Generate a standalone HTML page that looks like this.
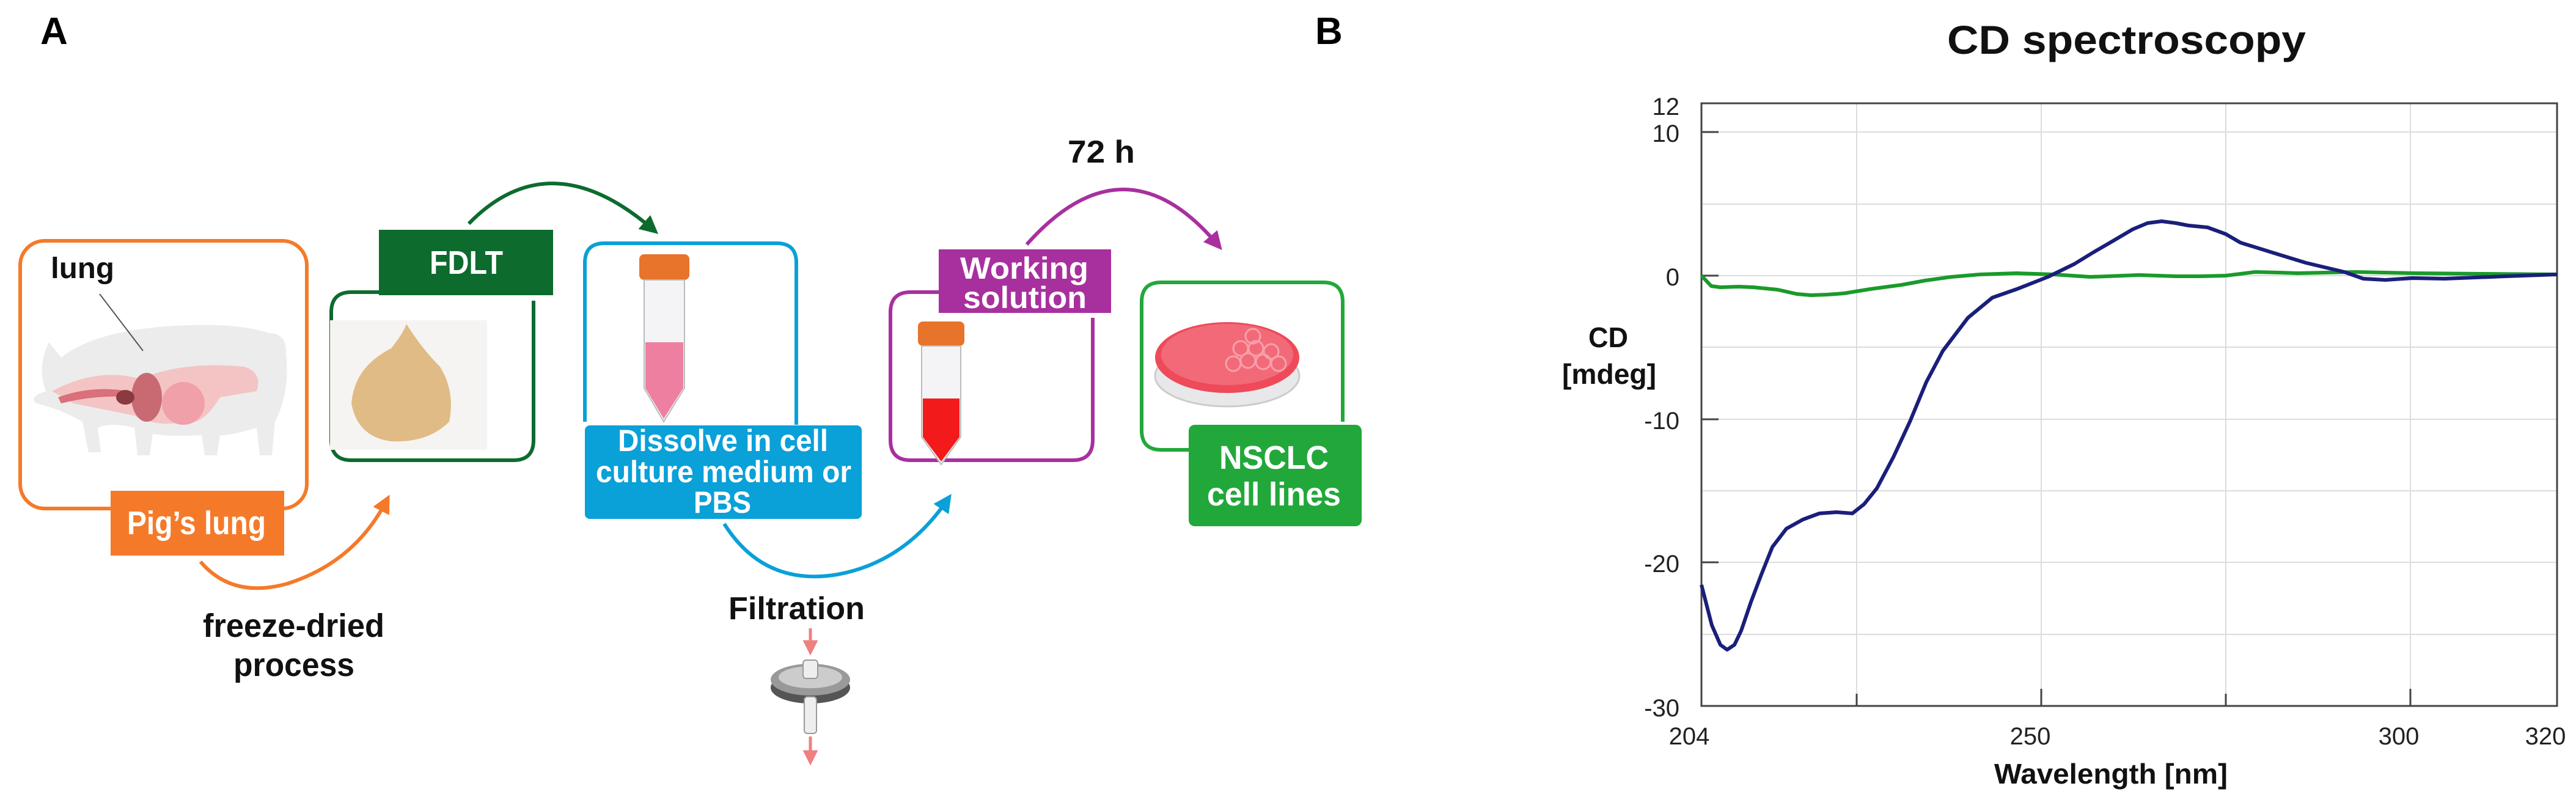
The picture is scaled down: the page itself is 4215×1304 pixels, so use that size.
<!DOCTYPE html>
<html><head><meta charset="utf-8"><style>
html,body{margin:0;padding:0;background:#fff;}
svg{display:block;}
text{font-family:"Liberation Sans Narrow","Liberation Sans",sans-serif;font-weight:bold;}
</style></head><body>
<svg width="4215" height="1304" viewBox="0 0 4215 1304" xmlns="http://www.w3.org/2000/svg">
<defs>
<marker id="ao" markerWidth="5" markerHeight="5" refX="3" refY="2.5" orient="auto" markerUnits="strokeWidth"><path d="M0,0 L5,2.5 L0,5 z" fill="#f47a2a"/></marker>
<marker id="ag" markerWidth="5" markerHeight="5" refX="3" refY="2.5" orient="auto" markerUnits="strokeWidth"><path d="M0,0 L5,2.5 L0,5 z" fill="#0d6b2e"/></marker>
<marker id="ab" markerWidth="5" markerHeight="5" refX="3" refY="2.5" orient="auto" markerUnits="strokeWidth"><path d="M0,0 L5,2.5 L0,5 z" fill="#0aa0d8"/></marker>
<marker id="ap" markerWidth="5" markerHeight="5" refX="3" refY="2.5" orient="auto" markerUnits="strokeWidth"><path d="M0,0 L5,2.5 L0,5 z" fill="#a8309e"/></marker>
<marker id="ar" markerWidth="5" markerHeight="5" refX="2.5" refY="2.5" orient="auto" markerUnits="strokeWidth"><path d="M0,0 L5,2.5 L0,5 z" fill="#f08080"/></marker>
</defs>

<text x="66" y="72" font-size="62" font-family="Liberation Sans">A</text>
<text x="2152" y="72" font-size="62" font-family="Liberation Sans">B</text>

<rect x="33" y="394" width="469" height="438" rx="40" fill="none" stroke="#f47a2a" stroke-width="6"/>
<g>
<path d="M75,640 Q60,600 80,560 L100,585 Q150,545 260,535 Q380,525 440,545 Q470,545 468,580 Q475,640 450,690 L445,745 L425,745 L420,700 Q380,712 360,712 L355,745 L335,745 L330,712 Q280,715 250,710 L245,745 L225,745 L220,700 Q180,690 160,700 L165,740 L145,740 L135,690 Q100,670 60,660 Q45,650 75,640 Z" fill="#ececec"/>
<path d="M85,640 Q160,600 230,620 Q300,590 400,600 Q430,610 420,640 L360,650 Q330,700 300,690 Q260,700 220,680 Q170,670 120,660 Z" fill="#f4c4c4"/>
<path d="M95,650 Q150,630 210,640 L215,650 Q160,645 100,660 Z" fill="#d9707a"/>
<ellipse cx="240" cy="650" rx="25" ry="40" fill="#c96a72"/>
<ellipse cx="300" cy="660" rx="35" ry="35" fill="#f0a0a8"/>
<ellipse cx="205" cy="650" rx="15" ry="12" fill="#8a3a40"/>
</g>
<line x1="163" y1="481" x2="234" y2="574" stroke="#555" stroke-width="2"/>
<text x="83" y="455" font-size="48" fill="#111" textLength="104" lengthAdjust="spacingAndGlyphs">lung</text>
<rect x="181" y="803" width="284" height="106" fill="#f47a2a"/>
<text x="208" y="874" font-size="54" fill="#fff" textLength="227" lengthAdjust="spacingAndGlyphs">Pig’s lung</text>
<path d="M328,919 Q380,980 470,955 Q580,920 632,820" fill="none" stroke="#f47a2a" stroke-width="6" marker-end="url(#ao)"/>
<text x="332" y="1042" font-size="54" fill="#111" textLength="297" lengthAdjust="spacingAndGlyphs">freeze-dried</text>
<text x="382" y="1106" font-size="54" fill="#111" textLength="198" lengthAdjust="spacingAndGlyphs">process</text>

<path d="M620,478 L575,478 Q542,478 542,511 L542,720 Q542,753 575,753 L840,753 Q873,753 873,720 L873,492" fill="none" stroke="#0d6b2e" stroke-width="6"/>
<rect x="620" y="376" width="285" height="107" fill="#0d6b2e"/>
<text x="703" y="448" font-size="54" fill="#fff" textLength="120" lengthAdjust="spacingAndGlyphs">FDLT</text>
<rect x="540" y="524" width="257" height="212" fill="#f6f4f2"/>
<path d="M575,660 Q580,600 640,570 Q660,545 665,530 Q690,570 720,600 Q745,640 735,690 Q700,725 640,722 Q585,715 575,660 Z" fill="#e0bb85"/>
<path d="M767,366 Q900,230 1068,375" fill="none" stroke="#0d6b2e" stroke-width="6" marker-end="url(#ag)"/>

<path d="M957,690 L957,430 Q957,398 989,398 L1271,398 Q1303,398 1303,430 L1303,695" fill="none" stroke="#0aa0d8" stroke-width="6"/>
<rect x="1046" y="416" width="82" height="42" rx="8" fill="#e8732a"/>
<path d="M1054,458 L1054,635 L1086,690 L1120,635 L1120,458 Z" fill="#f4f4f6" stroke="#bbb" stroke-width="2"/>
<path d="M1056,560 L1118,560 L1118,635 L1086,685 L1056,635 Z" fill="#ef7fa0"/>
<rect x="957" y="696" width="453" height="153" rx="8" fill="#0aa0d8"/>
<text x="1011" y="738" font-size="50" fill="#fff" textLength="344" lengthAdjust="spacingAndGlyphs">Dissolve in cell</text>
<text x="975" y="789" font-size="50" fill="#fff" textLength="418" lengthAdjust="spacingAndGlyphs">culture medium or</text>
<text x="1135" y="839" font-size="50" fill="#fff" textLength="94" lengthAdjust="spacingAndGlyphs">PBS</text>
<path d="M1185,857 Q1250,960 1370,940 Q1480,920 1550,818" fill="none" stroke="#0aa0d8" stroke-width="6" marker-end="url(#ab)"/>
<text x="1192" y="1013" font-size="52" fill="#111" textLength="223" lengthAdjust="spacingAndGlyphs">Filtration</text>
<line x1="1326" y1="1028" x2="1326" y2="1060" stroke="#f08080" stroke-width="5" marker-end="url(#ar)"/>
<ellipse cx="1326" cy="1125" rx="65" ry="26" fill="#555"/>
<ellipse cx="1326" cy="1112" rx="65" ry="26" fill="#999"/>
<ellipse cx="1326" cy="1108" rx="52" ry="18" fill="#ccc"/>
<rect x="1314" y="1080" width="24" height="30" rx="5" fill="#eee" stroke="#999" stroke-width="2"/>
<rect x="1316" y="1140" width="20" height="60" rx="5" fill="#eee" stroke="#999" stroke-width="2"/>
<line x1="1326" y1="1205" x2="1326" y2="1240" stroke="#f08080" stroke-width="5" marker-end="url(#ar)"/>

<path d="M1536,478 L1490,478 Q1457,478 1457,511 L1457,720 Q1457,753 1490,753 L1755,753 Q1788,753 1788,720 L1788,520" fill="none" stroke="#a8309e" stroke-width="6"/>
<rect x="1502" y="526" width="76" height="40" rx="8" fill="#e8732a"/>
<path d="M1508,566 L1508,715 L1540,760 L1572,715 L1572,566 Z" fill="#f4f4f6" stroke="#bbb" stroke-width="2"/>
<path d="M1510,652 L1570,652 L1570,715 L1540,755 L1510,715 Z" fill="#f21a1a"/>
<rect x="1536" y="408" width="282" height="104" fill="#a8309e"/>
<text x="1571" y="456" font-size="50" fill="#fff" textLength="210" lengthAdjust="spacingAndGlyphs">Working</text>
<text x="1576" y="504" font-size="50" fill="#fff" textLength="202" lengthAdjust="spacingAndGlyphs">solution</text>
<text x="1747" y="266" font-size="52" fill="#111" textLength="110" lengthAdjust="spacingAndGlyphs">72 h</text>
<path d="M1680,400 Q1840,220 1992,400" fill="none" stroke="#a8309e" stroke-width="6" marker-end="url(#ap)"/>

<path d="M1945,736 L1900,736 Q1868,736 1868,704 L1868,494 Q1868,462 1900,462 L2165,462 Q2197,462 2197,494 L2197,690" fill="none" stroke="#22a83a" stroke-width="6"/>
<ellipse cx="2008" cy="615" rx="118" ry="50" fill="#e8e8ea" stroke="#ccc" stroke-width="3"/>
<ellipse cx="2008" cy="585" rx="118" ry="58" fill="#ef4a5a"/>
<ellipse cx="2008" cy="580" rx="108" ry="50" fill="#f26a78"/>
<g fill="none" stroke="#f7a0aa" stroke-width="3">
<circle cx="2030" cy="570" r="12"/><circle cx="2055" cy="570" r="12"/><circle cx="2080" cy="575" r="12"/><circle cx="2042" cy="590" r="12"/><circle cx="2067" cy="592" r="12"/><circle cx="2018" cy="595" r="12"/><circle cx="2050" cy="550" r="12"/><circle cx="2092" cy="595" r="12"/>
</g>
<rect x="1945" y="695" width="283" height="166" rx="10" fill="#22a83a"/>
<text x="1995" y="767" font-size="54" fill="#fff" textLength="179" lengthAdjust="spacingAndGlyphs">NSCLC</text>
<text x="1975" y="827" font-size="54" fill="#fff" textLength="219" lengthAdjust="spacingAndGlyphs">cell lines</text>

<text x="3186" y="88" font-size="66" fill="#111" font-family="Liberation Sans" textLength="587" lengthAdjust="spacingAndGlyphs">CD spectroscopy</text>
<g stroke="#dcdcdc" stroke-width="2">
<line x1="2784" y1="216" x2="4184" y2="216"/>
<line x1="2784" y1="334" x2="4184" y2="334"/>
<line x1="2784" y1="451" x2="4184" y2="451"/>
<line x1="2784" y1="568" x2="4184" y2="568"/>
<line x1="2784" y1="686" x2="4184" y2="686"/>
<line x1="2784" y1="803" x2="4184" y2="803"/>
<line x1="2784" y1="920" x2="4184" y2="920"/>
<line x1="2784" y1="1038" x2="4184" y2="1038"/>
<line x1="3038" y1="169" x2="3038" y2="1155"/>
<line x1="3340" y1="169" x2="3340" y2="1155"/>
<line x1="3642" y1="169" x2="3642" y2="1155"/>
<line x1="3944" y1="169" x2="3944" y2="1155"/>
</g>
<rect x="2784" y="169" width="1400" height="986" fill="none" stroke="#444" stroke-width="3"/>
<g stroke="#444" stroke-width="3">
<line x1="2784" y1="216" x2="2812" y2="216"/><line x1="2784" y1="451" x2="2812" y2="451"/><line x1="2784" y1="686" x2="2812" y2="686"/><line x1="2784" y1="920" x2="2812" y2="920"/>
<line x1="3340" y1="1155" x2="3340" y2="1127"/><line x1="3944" y1="1155" x2="3944" y2="1127"/><line x1="3038" y1="1155" x2="3038" y2="1135"/><line x1="3642" y1="1155" x2="3642" y2="1135"/>
</g>
<g font-size="40" fill="#222" text-anchor="end">
<text x="2748" y="188" style="font-weight:normal">12</text>
<text x="2748" y="232" style="font-weight:normal">10</text>
<text x="2748" y="467" style="font-weight:normal">0</text>
<text x="2748" y="702" style="font-weight:normal">-10</text>
<text x="2748" y="936" style="font-weight:normal">-20</text>
<text x="2748" y="1172" style="font-weight:normal">-30</text>
</g>
<g font-size="40" fill="#222" text-anchor="middle">
<text x="2764" y="1218" style="font-weight:normal">204</text>
<text x="3322" y="1218" style="font-weight:normal">250</text>
<text x="3925" y="1218" style="font-weight:normal">300</text>
<text x="4165" y="1218" style="font-weight:normal">320</text>
</g>
<text x="3263" y="1282" font-size="46" fill="#111" textLength="382" lengthAdjust="spacingAndGlyphs">Wavelength [nm]</text>
<text x="2599" y="568" font-size="46" fill="#111" textLength="65" lengthAdjust="spacingAndGlyphs">CD</text>
<text x="2556" y="628" font-size="46" fill="#111" textLength="154" lengthAdjust="spacingAndGlyphs">[mdeg]</text>
<polyline fill="none" stroke="#1a9a2a" stroke-width="6" stroke-linejoin="round" points="2784,451 2800,468 2815,470 2845,469 2869,470 2909,474 2940,481 2963,483 2990,482 3017,480 3060,473 3112,466 3150,459 3193,453 3240,449 3300,447 3360,449 3420,453 3449,452 3500,450 3560,452 3600,452 3642,451 3690,445 3730,446 3760,447 3854,445 3950,447 4060,448 4184,449"/>
<polyline fill="none" stroke="#1a1f7a" stroke-width="6" stroke-linejoin="round" points="2784,957 2801,1023 2815,1055 2826,1063 2838,1055 2849,1032 2865,985 2882,940 2900,895 2923,865 2950,850 2977,840 3005,838 3031,840 3050,825 3071,799 3098,748 3125,690 3152,625 3179,574 3220,520 3260,487 3300,473 3351,453 3394,432 3425,413 3456,395 3490,375 3514,365 3537,362 3560,365 3581,369 3612,372 3642,383 3666,397 3724,415 3773,430 3836,445 3867,456 3903,458 3947,455 4000,456 4100,452 4184,449"/>
</svg>
</body></html>
